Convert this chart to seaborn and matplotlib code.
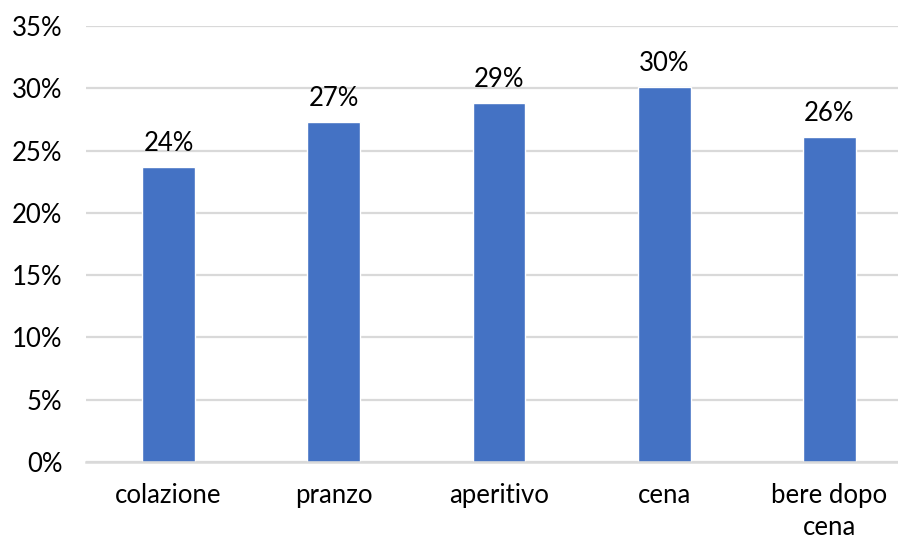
import matplotlib
matplotlib.use("Agg")
import matplotlib.pyplot as plt
import seaborn as sns
import pandas as pd

# Share of respondents by drinking occasion
categories = ["colazione", "pranzo", "aperitivo", "cena", "bere dopo\ncena"]
shares = [0.237, 0.273, 0.288, 0.301, 0.261]

df = pd.DataFrame({"occasione": categories, "quota": shares})

sns.set_theme(style="white")
plt.rcParams["font.family"] = ["Lato", "DejaVu Sans"]

fig = plt.figure(figsize=(8.98, 5.42), dpi=100)
ax = fig.add_axes([86 / 898, 80 / 542, 1 - 86 / 898, 436 / 542])

sns.barplot(data=df, x="occasione", y="quota", color="#4472C4",
            width=0.32, saturation=1, ax=ax, zorder=3)

ax.set_ylim(0, 0.35)
ax.set_xlim(-0.5, 4.5 - 14 / 165)
ax.set_yticks([i * 0.05 for i in range(8)])
ax.set_yticklabels([f"{int(round(t * 100))}%" for t in ax.get_yticks()])
ax.yaxis.grid(True, color="#d9d9d9", linewidth=1.6, zorder=0)
ax.set_axisbelow(True)

for s in ["top", "right", "left"]:
    ax.spines[s].set_visible(False)
ax.spines["bottom"].set_color("#d9d9d9")
ax.spines["bottom"].set_linewidth(1.8)
ax.spines["bottom"].set_zorder(4)

ax.tick_params(axis="y", length=0, pad=17, labelsize=18.5, labelcolor="black")
ax.tick_params(axis="x", length=0, pad=15, labelsize=18.5, labelcolor="black")
for lbl in ax.get_xticklabels():
    lbl.set_linespacing(1.38)
ax.set_xlabel("")
ax.set_ylabel("")

for i, v in enumerate(shares):
    ax.annotate(f"{round(v * 100):.0f}%", (i, v), xytext=(0, 8),
                textcoords="offset points", ha="center", va="bottom",
                fontsize=18.5, color="black")

fig.savefig("out.png", dpi=100)
